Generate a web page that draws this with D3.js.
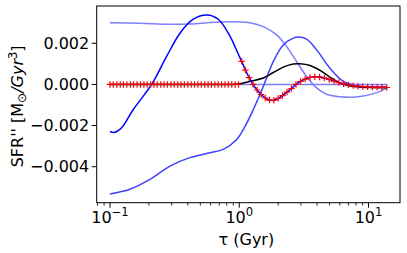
<!DOCTYPE html>
<html><head><meta charset="utf-8">
<script src="https://cdn.jsdelivr.net/npm/d3@7"></script>
<style>body{margin:0;background:#fff}svg{display:block}text{font-family:"DejaVu Sans",sans-serif}</style>
</head><body><div id="chart"></div>
<script>
// Dark blue curve, early part (tau < 1)
const aTauEarly = [0.1, 0.109, 0.123, 0.151, 0.21, 0.274, 0.348, 0.441, 0.56, 0.688, 0.847, 0.982];
const aValEarly = [-0.00229, -0.00233, -0.00211, -0.00123, 0, 0.00136, 0.00249, 0.00317, 0.00338, 0.00317, 0.00235, 0.00148];
// Red crosses: zero run before tau=1
const crossTauZero = [0.1, 0.106, 0.113, 0.12, 0.127, 0.135, 0.144, 0.152, 0.162, 0.172, 0.183, 0.194, 0.206, 0.219, 0.232, 0.247, 0.262, 0.278, 0.296, 0.314, 0.334, 0.354, 0.376, 0.4, 0.425, 0.451, 0.479, 0.509, 0.54, 0.574, 0.609, 0.647, 0.687, 0.73, 0.775, 0.823, 0.875, 0.929, 0.987];
const crossValZero = [0,0,0,0,0,0,0,0,0,0,0,0,0,0,0,0,0,0,0,0,0,0,0,0,0,0,0,0,0,0,0,0,0,0,0,0,0,0,0];
// Red crosses after tau=1 (lie on the dark blue curve)
const crossTauLate = [1.044, 1.115, 1.193, 1.279, 1.373, 1.477, 1.592, 1.716, 1.853, 2.0, 2.163, 2.34, 2.535, 2.747, 2.982, 3.236, 3.526, 3.84, 4.183, 4.557, 4.965, 5.408, 5.891, 6.418, 6.99, 7.614, 8.294, 9.036, 9.84, 10.72, 11.68, 12.72, 13.86];
const crossValLate = [0.00112, 0.00070, 0.00033, 0.00000, -0.00027, -0.00049, -0.00066, -0.00076, -0.00077, -0.00068, -0.00054, -0.00037, -0.00020, 0.00000, 0.00015, 0.00026, 0.00034, 0.00037, 0.00036, 0.00031, 0.00024, 0.00016, 0.00009, 0.00003, -0.00002, -0.00006, -0.00009, -0.00011, -0.00012, -0.00013, -0.00014, -0.00014, -0.00015];
// Light blue curve (flat near 0.003)
const bTau = [0.1, 0.17, 0.291, 0.415, 0.668, 1.012, 1.21, 1.534, 1.947, 2.33, 2.78, 3.32, 3.97, 4.74, 6.02, 7.63, 9.12, 11.6, 13.86];
const bVal = [0.00300, 0.00297, 0.00292, 0.00294, 0.00302, 0.00304, 0.00300, 0.00281, 0.00241, 0.00184, 0.00111, 0.00039, -0.00017, -0.00048, -0.00060, -0.00062, -0.00056, -0.00040, -0.00018];
// Medium blue curve (rising from bottom)
const cTau = [0.1, 0.1425, 0.2035, 0.291, 0.415, 0.594, 0.752, 0.955, 1.107, 1.283, 1.534, 1.833, 2.19, 2.62, 2.86, 3.32, 3.97, 5.03, 6.37, 8.08, 10.3, 13.86];
const cVal = [-0.00533, -0.0051, -0.00462, -0.00397, -0.00356, -0.00332, -0.00316, -0.00268, -0.00205, -0.00123, -0.0001, 0.00111, 0.00192, 0.00225, 0.0023, 0.0022, 0.00168, 0.00079, 0.00015, -0.00006, -0.00013, -0.00013];
// Black curve
const dTau = [0.1, 0.5, 0.9, 1.012, 1.21, 1.534, 1.833, 2.19, 2.62, 2.95, 3.53, 4.22, 5.03, 6.02, 7.63, 10.3, 13.86];
const dVal = [0, 0, 0, 0.00003, 0.00015, 0.00031, 0.00058, 0.00084, 0.00099, 0.001, 0.00092, 0.00068, 0.00036, 0.00007, -0.0001, -0.00015, -0.00016];
// Light zero line
const eTau = [0.1, 13.86];
const eVal = [0, 0];
// Ticks
const yTicks = [0.002, 0.000, -0.002, -0.004];
const yTickLabels = ["0.002", "0.000", "\u22120.002", "\u22120.004"];
const xTicks = [0.1, 1, 10];
const xTickExp = ["\u22121", "0", "1"];
const xMinor = [0.08, 0.09, 0.2, 0.3, 0.4, 0.5, 0.6, 0.7, 0.8, 0.9, 2, 3, 4, 5, 6, 7, 8, 9];

const W = 407, H = 253;
const L = 96.7, R = 400, T = 6, B = 202.7;
const svg = d3.select("#chart").append("svg").attr("width", W).attr("height", H);
const x = d3.scaleLog().domain([Math.pow(10, -1.1029), Math.pow(10, 1.2438)]).range([L, R]);
const y = d3.scaleLinear().domain([-0.00575, 0.003813]).range([B, T]);

const zip = (t, v) => t.map((d, i) => [d, v[i]]);
const line = d3.line().x(d => x(d[0])).y(d => y(d[1])).curve(d3.curveCatmullRom.alpha(0.5));
const g = svg.append("g");
g.append("path").attr("d", line(zip(bTau, bVal))).attr("fill", "none").attr("stroke", "#8080ff").attr("stroke-width", 1.5);
g.append("path").attr("d", line(zip(eTau, eVal))).attr("fill", "none").attr("stroke", "#8080ff").attr("stroke-width", 1.5);
g.append("path").attr("d", line(zip(cTau, cVal))).attr("fill", "none").attr("stroke", "#4040ff").attr("stroke-width", 1.5);
g.append("path").attr("d", line(zip(dTau, dVal))).attr("fill", "none").attr("stroke", "#000").attr("stroke-width", 1.5);
g.append("path").attr("d", line(zip(aTauEarly.concat(crossTauLate), aValEarly.concat(crossValLate)))).attr("fill", "none").attr("stroke", "#0000ff").attr("stroke-width", 1.5);

const crosses = zip(crossTauZero.concat(crossTauLate), crossValZero.concat(crossValLate));
g.selectAll("path.cr").data(crosses).enter().append("path").attr("class", "cr")
  .attr("d", d => { const cx = x(d[0]), cy = y(d[1]), s = 3.2; return `M${cx - s},${cy}H${cx + s}M${cx},${cy - s}V${cy + s}`; })
  .attr("stroke", "#ff0000").attr("stroke-width", 1.2).attr("fill", "none");

// Frame
svg.append("rect").attr("x", L).attr("y", T).attr("width", R - L).attr("height", B - T).attr("fill", "none").attr("stroke", "#000").attr("stroke-width", 1);

// Y ticks
yTicks.forEach((v, i) => {
  svg.append("line").attr("x1", L - 5).attr("x2", L).attr("y1", y(v)).attr("y2", y(v)).attr("stroke", "#000").attr("stroke-width", 1);
  svg.append("text").attr("x", L - 7.5).attr("y", y(v)).attr("dy", "0.36em").attr("text-anchor", "end").attr("font-size", 16).text(yTickLabels[i]);
});
// X ticks
xTicks.forEach((v, i) => {
  svg.append("line").attr("x1", x(v)).attr("x2", x(v)).attr("y1", B).attr("y2", B + 5).attr("stroke", "#000").attr("stroke-width", 1);
  const t = svg.append("text").attr("x", x(v)).attr("y", 223).attr("text-anchor", "middle").attr("font-size", 16);
  t.append("tspan").text("10");
  t.append("tspan").attr("dy", -7).attr("font-size", 11.5).text(xTickExp[i]);
});
xMinor.forEach(v => {
  svg.append("line").attr("x1", x(v)).attr("x2", x(v)).attr("y1", B).attr("y2", B + 3).attr("stroke", "#000").attr("stroke-width", 0.8);
});
// Axis labels
svg.append("text").attr("x", (L + R) / 2 - 2).attr("y", 245).attr("text-anchor", "middle").attr("font-size", 16).text("\u03c4 (Gyr)");
const yl = svg.append("text").attr("transform", `translate(23,${(T + B) / 2 + 2}) rotate(-90)`).attr("text-anchor", "middle").attr("font-size", 16);
yl.append("tspan").text("SFR'' [M");
yl.append("tspan").attr("dy", 3).attr("font-size", 12).text("\u2299");
yl.append("tspan").attr("dy", -3).attr("font-style", "italic").text("/Gyr");
yl.append("tspan").attr("dy", -6).attr("font-size", 11.5).text("3");
yl.append("tspan").attr("dy", 6).text("]");
</script></body></html>
